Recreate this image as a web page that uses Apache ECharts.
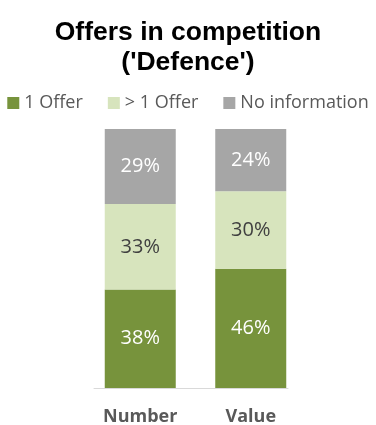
<!DOCTYPE html>
<html>
<head>
<meta charset="utf-8">
<script src="https://cdn.jsdelivr.net/npm/echarts@6/dist/echarts.min.js"></script>
<style>
html,body{margin:0;padding:0;background:#fff;}
#main{width:376px;height:425px;}
</style>
</head>
<body>
<div id="main"></div>
<script>
// data
var categories = ['Number', 'Value'];
var oneOffer = [38, 46];
var moreOffers = [33, 30];
var noInfo = [29, 24];
var seriesNames = ['1 Offer', '> 1 Offer', 'No information'];

var myChart = echarts.init(document.getElementById('main'));

function pct(p) {
	return p.value + '%';
}

option = {
	animation: false,
	title: {
		text: "Offers in competition\n('Defence')",
		left: 'center',
		top: 18,
		padding: [0, 0, 0, 8],
		textStyle: {
			fontFamily: 'Liberation Sans',
			fontWeight: 'bold',
			fontSize: 26.5,
			lineHeight: 30,
			color: '#000'
		}
	},
	legend: {
		data: seriesNames,
		top: 89,
		left: 'center',
		itemWidth: 12,
		itemHeight: 12,
		itemGap: 25,
		icon: 'rect',
		textStyle: {
			fontFamily: 'Open Sans',
			fontSize: 18,
			color: '#595959'
		}
	},
	// grid 0 holds the bars, grid 1 only draws the shorter baseline
	grid: [
		{left: 85, right: 70, top: 129, bottom: 37, outerBoundsMode: 'none'},
		{left: 94, right: 88, top: 129, bottom: 37, outerBoundsMode: 'none'}
	],
	xAxis: [
		{
			type: 'category',
			gridIndex: 0,
			data: categories,
			axisLine: {show: false},
			axisTick: {show: false},
			axisLabel: {
				margin: 20,
				fontFamily: 'Open Sans',
				fontWeight: 'bold',
				fontSize: 18,
				color: '#595959'
			}
		},
		{
			type: 'value',
			gridIndex: 1,
			min: 0,
			max: 1,
			splitLine: {show: false},
			axisLine: {show: true, lineStyle: {color: '#D9D9D9'}},
			axisTick: {show: false},
			axisLabel: {show: false}
		}
	],
	yAxis: [
		{type: 'value', gridIndex: 0, min: 0, max: 100, show: false},
		{type: 'value', gridIndex: 1, min: 0, max: 1, show: false}
	],
	series: [
		{
			name: seriesNames[0],
			type: 'bar',
			stack: 'all',
			barWidth: 71,
			data: oneOffer,
			itemStyle: {color: '#77933C'},
			label: {show: true, formatter: pct, color: '#fff', fontFamily: 'Open Sans', fontSize: 20}
		},
		{
			name: seriesNames[1],
			type: 'bar',
			stack: 'all',
			barWidth: 71,
			data: moreOffers,
			itemStyle: {color: '#D7E4BD'},
			label: {show: true, formatter: pct, color: '#404040', fontFamily: 'Open Sans', fontSize: 20}
		},
		{
			name: seriesNames[2],
			type: 'bar',
			stack: 'all',
			barWidth: 71,
			data: noInfo,
			itemStyle: {color: '#A6A6A6'},
			label: {show: true, formatter: pct, color: '#fff', fontFamily: 'Open Sans', fontSize: 20}
		}
	]
};
myChart.setOption(option);
</script>
</body>
</html>
